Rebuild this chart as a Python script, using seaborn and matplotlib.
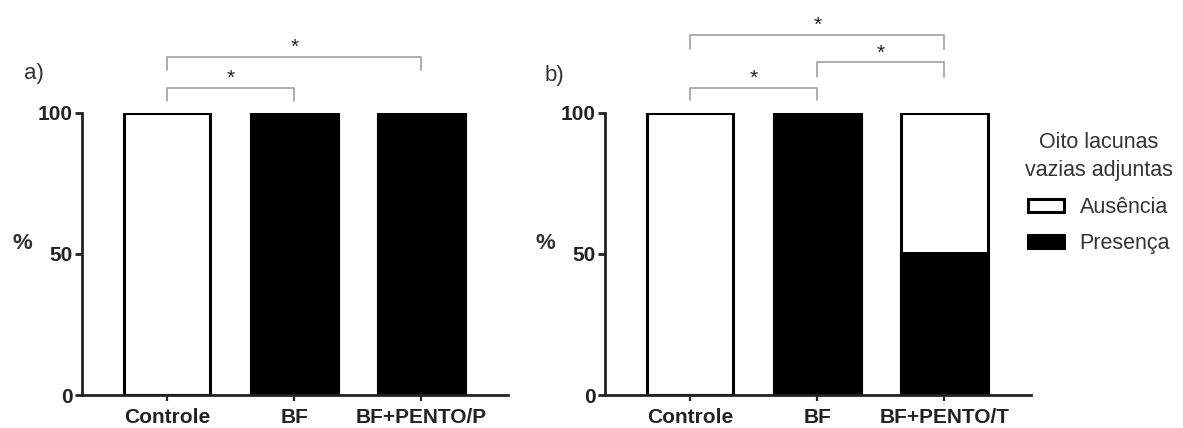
import numpy as np
import pandas as pd
import matplotlib
matplotlib.use('Agg')
import matplotlib.pyplot as plt
import seaborn as sns
from matplotlib.patches import Patch

# data (% of animals)
groups_a = ["Controle", "BF", "BF+PENTO/P"]
presenca_a = [0, 100, 100]
groups_b = ["Controle", "BF", "BF+PENTO/T"]
presenca_b = [0, 100, 50.5]
total = [100, 100, 100]

# significance brackets: (group i, group j, line height, tip height)
brackets_a = [(0, 1, 108.9, 104.3), (0, 2, 119.9, 115.2)]
brackets_b = [(0, 1, 108.9, 104.6), (1, 2, 118.1, 112.8), (0, 2, 127.7, 122.7)]

sns.set_theme(style="ticks")
plt.rcParams['font.family'] = ['Liberation Sans', 'DejaVu Sans']

fig = plt.figure(figsize=(11.83, 4.28), dpi=100)
ax_a = fig.add_axes([0.0693, 0.0771, 0.360, 0.659])
ax_b = fig.add_axes([0.5114, 0.0771, 0.360, 0.659])


def draw_panel(ax, groups, presenca, brackets):
    df = pd.DataFrame({"grupo": groups, "total": total, "presenca": presenca})
    sns.barplot(data=df, x="grupo", y="total", color="white", edgecolor="black",
                linewidth=2.2, width=0.68, saturation=1, ax=ax)
    sns.barplot(data=df, x="grupo", y="presenca", color="black", edgecolor="black",
                linewidth=2.2, width=0.68, saturation=1, ax=ax)
    ax.set_ylim(0, 100)
    ax.set_xlim(-0.67, 2.68)
    ax.set_yticks([0, 50, 100])
    ax.set_xlabel("")
    ax.set_ylabel("%", rotation=0, fontsize=16, fontweight="bold", color="#333333")
    ax.yaxis.set_label_coords(-0.14, 0.5)
    for s in ["top", "right"]:
        ax.spines[s].set_visible(False)
    for s in ["left", "bottom"]:
        ax.spines[s].set_linewidth(2)
        ax.spines[s].set_color("#222222")
    ax.tick_params(axis="y", length=5, width=2, labelsize=15, pad=2, color="#222222")
    ax.tick_params(axis="x", length=4, width=1.6, labelsize=15, pad=5, color="#222222")
    for lab in ax.get_xticklabels() + ax.get_yticklabels():
        lab.set_fontweight("bold")
        lab.set_color("#222222")
    for i, j, top, tip in brackets:
        ax.plot([i, i, j, j], [tip, top, top, tip], color="#a0a0a0", lw=1.2,
                clip_on=False)
        ax.text((i + j) / 2, top + 3.2, "*", ha="center", va="center",
                fontsize=15, color="#222222", clip_on=False)


draw_panel(ax_a, groups_a, presenca_a, brackets_a)
draw_panel(ax_b, groups_b, presenca_b, brackets_b)

fig.text(24 / 1183, 1 - 74 / 428, "a)", fontsize=16, va="center", color="#333333")
fig.text(545 / 1183, 1 - 75 / 428, "b)", fontsize=16, va="center", color="#333333")

handles = [Patch(facecolor="white", edgecolor="black", linewidth=2.2, label="Ausência"),
           Patch(facecolor="black", edgecolor="black", linewidth=2.2, label="Presença")]
leg = fig.legend(handles=handles, title="Oito lacunas\nvazias adjuntas",
                 loc="upper left", bbox_to_anchor=(1025 / 1183, 1 - 132 / 428),
                 frameon=False, fontsize=15.5, title_fontsize=15.5,
                 borderpad=0, borderaxespad=0,
                 handlelength=1.7, handleheight=0.55, labelspacing=0.72,
                 handletextpad=0.7)
leg.get_title().set_color("#333333")
leg.get_title().set_multialignment("center")
leg.get_title().set_linespacing(1.45)
for t in leg.get_texts():
    t.set_color("#333333")

fig.savefig("out.png", dpi=100)
